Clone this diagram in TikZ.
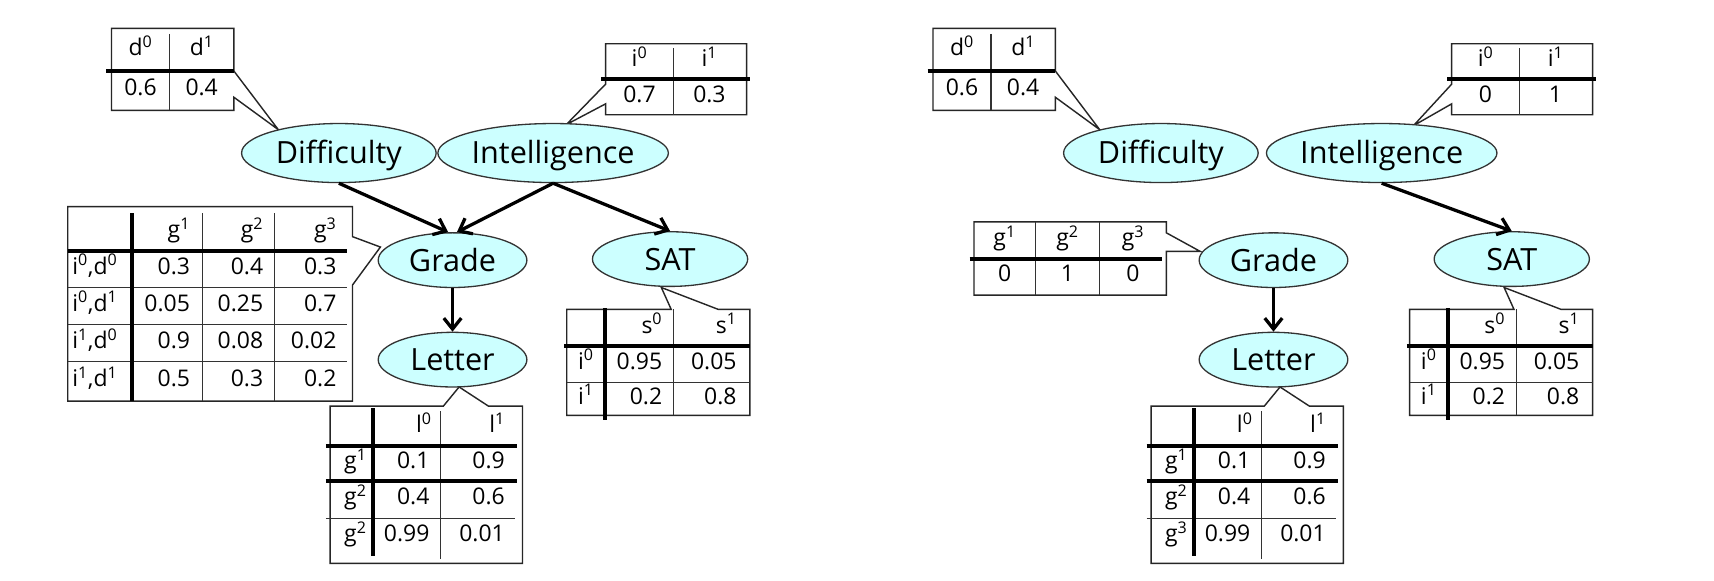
\documentclass[tikz,border=0pt]{standalone}
\usepackage{fontspec}
\setmainfont{Open Sans}
\usetikzlibrary{shapes.geometric,arrows.meta}
\definecolor{nodefill}{RGB}{204,255,255}
\newcommand{\su}[1]{\textsuperscript{#1}}
\begin{document}
\begin{tikzpicture}[x=1pt,y=-1pt,
  var/.style={ellipse,draw=black!80,line width=1.2pt,fill=nodefill,inner sep=0pt,
    minimum height=50pt,text height=20pt,text depth=0pt,font=\fontsize{28}{30}\selectfont},
  tall/.style={minimum height=54pt},
  tbl/.style={draw=black!85,line width=1.3pt,fill=white,line join=miter},
  thinln/.style={line width=1.1pt,draw=black!80},
  thickln/.style={line width=4pt,draw=black},
  cell/.style={inner sep=0pt,font=\fontsize{21}{24}\selectfont,anchor=mid},
  rcell/.style={cell,anchor=mid east},
  lcell/.style={cell,anchor=mid west},
  arr/.style={line width=3pt,draw=black,-{Straight Barb[length=10pt,width=16pt,line width=3pt]}}]
\fill[white] (0,0) rectangle (1568,531);
\useasboundingbox (0,0) rectangle (1568,531);

%%%%%%%%%%%%%%%% LEFT NETWORK %%%%%%%%%%%%%%%%
% Difficulty CPT
\draw[tbl] (102,26) -- (214,26) -- (214,65) -- (254.6,118.6) -- (214,89) -- (214,101) -- (102,101) -- cycle;
\draw[thinln] (155,31) -- (155,101);
\draw[thickln] (97,65) -- (214,65);
\node[cell] (a1) at (128.5,48) {d\su{0}};
\node[cell] (a2) at (184.5,48) {d\su{1}};
\node[cell] (a3) at (128.5,85) {0.6};
\node[cell] (a4) at (184.5,85) {0.4};

% Intelligence CPT
\draw[tbl] (554,40) -- (683,40) -- (683,105) -- (554,105) -- (554,95) -- (518,114) -- (554,77) -- cycle;
\draw[thinln] (616,44) -- (616,105);
\draw[thickln] (550,72) -- (686,72);
\node[cell] (b1) at (585,58) {i\su{0}};
\node[cell] (b2) at (649,58) {i\su{1}};
\node[cell] (b3) at (585,91) {0.7};
\node[cell] (b4) at (649,91) {0.3};

% Grade CPT
\draw[tbl] (62,189) -- (322.5,189) -- (322.5,216.5) -- (348,226) -- (322.5,260.7) -- (322.5,367) -- (62,367) -- cycle;
\foreach \yy in {263,297,331} \draw[thinln] (62,\yy) -- (317,\yy);
\foreach \xx in {185,251} \draw[thinln] (\xx,195) -- (\xx,367);
\draw[thickln] (62,229.6) -- (317,229.6);
\draw[thickln] (121,195) -- (121,367);
\node[rcell] (c1) at (174,215) {g\su{1}};
\node[rcell] (c2) at (241,215) {g\su{2}};
\node[rcell] (c3) at (308,215) {g\su{3}};
\node[lcell] (c4) at (66,248) {i\su{0},d\su{0}};
\node[rcell] (c5) at (174,248) {0.3};
\node[rcell] (c6) at (241,248) {0.4};
\node[rcell] (c7) at (308,248) {0.3};
\node[lcell] (c8) at (66,282) {i\su{0},d\su{1}};
\node[rcell] (c9) at (174,282) {0.05};
\node[rcell] (c10) at (241,282) {0.25};
\node[rcell] (c11) at (308,282) {0.7};
\node[lcell] (c12) at (66,316) {i\su{1},d\su{0}};
\node[rcell] (c13) at (174,316) {0.9};
\node[rcell] (c14) at (241,316) {0.08};
\node[rcell] (c15) at (308,316) {0.02};
\node[lcell] (c16) at (66,351) {i\su{1},d\su{1}};
\node[rcell] (c17) at (174,351) {0.5};
\node[rcell] (c18) at (241,351) {0.3};
\node[rcell] (c19) at (308,351) {0.2};

% SAT CPT
\draw[tbl] (518.5,283) -- (614,283) -- (605,263) -- (657,283) -- (686,283) -- (686,380) -- (518.5,380) -- cycle;
\draw[thinln] (616,283) -- (616,380);
\draw[thinln] (518.5,350) -- (686,350);
\draw[thickln] (516,316.6) -- (686,316.6);
\draw[thickln] (553.5,282) -- (553.5,384);
\node[rcell] (e1) at (606,302) {s\su{0}};
\node[rcell] (e2) at (674,302) {s\su{1}};
\node[cell] (e3) at (536,335) {i\su{0}};
\node[rcell] (e4) at (606,335) {0.95};
\node[rcell] (e5) at (674,335) {0.05};
\node[cell] (e6) at (536,367) {i\su{1}};
\node[rcell] (e7) at (606,367) {0.2};
\node[rcell] (e8) at (674,367) {0.8};

% Letter CPT
\draw[tbl] (302,371.5) -- (405.6,371.5) -- (420,354) -- (446.8,371.5) -- (478,371.5) -- (478,515.4) -- (302,515.4) -- cycle;
\draw[thinln] (403,376) -- (403,511);
\draw[thinln] (298,474) -- (471,474);
\draw[thickln] (298,408) -- (473,408);
\draw[thickln] (298,440) -- (473,440);
\draw[thickln] (341,373.6) -- (341,509);
\node[rcell] (f1) at (395,393) {l\su{0}};
\node[rcell] (f2) at (462,393) {l\su{1}};
\node[rcell] (f3) at (335.5,426) {g\su{1}};
\node[rcell] (f4) at (393,426) {0.1};
\node[rcell] (f5) at (462,426) {0.9};
\node[rcell] (f6) at (335.5,459) {g\su{2}};
\node[rcell] (f7) at (393,459) {0.4};
\node[rcell] (f8) at (462,459) {0.6};
\node[rcell] (f9) at (335.5,493) {g\su{2}};
\node[rcell] (f10) at (393,493) {0.99};
\node[rcell] (f11) at (462,493) {0.01};

% nodes
\node[var,tall,minimum width=178pt] (D1) at (310,140) {Difficulty};
\node[var,tall,minimum width=178pt] (I1) at (506,140) {Intelligence};
\node[var,minimum width=136pt] (G1) at (414,238) {Grade};
\node[var,minimum width=142pt] (S1) at (613,237) {SAT};
\node[var,minimum width=136pt] (L1) at (414,329) {Letter};

\draw[arr] (D1.south) -- ([xshift=-4pt]G1.north);
\draw[arr] (I1.south) -- ([xshift=4pt]G1.north);
\draw[arr] (I1.south) -- (S1.north);
\draw[arr] (G1.south) -- (L1.north);

%%%%%%%%%%%%%%%% RIGHT NETWORK %%%%%%%%%%%%%%%%
% Difficulty CPT
\draw[tbl] (853.5,26) -- (965.5,26) -- (965.5,65) -- (1006,118.6) -- (965.5,89) -- (965.5,101) -- (853.5,101) -- cycle;
\draw[thinln] (906.5,31) -- (906.5,101);
\draw[thickln] (848.5,65) -- (965.5,65);
\node[cell] (g1) at (880,48) {d\su{0}};
\node[cell] (g2) at (936,48) {d\su{1}};
\node[cell] (g3) at (880,85) {0.6};
\node[cell] (g4) at (936,85) {0.4};

% Intelligence CPT
\draw[tbl] (1328,40) -- (1457,40) -- (1457,105) -- (1328,105) -- (1328,95) -- (1293,115) -- (1328,77) -- cycle;
\draw[thinln] (1390,44) -- (1390,105);
\draw[thickln] (1324,72) -- (1460,72);
\node[cell] (h1) at (1359,58) {i\su{0}};
\node[cell] (h2) at (1423,58) {i\su{1}};
\node[cell] (h3) at (1359,91) {0};
\node[cell] (h4) at (1423,91) {1};

% Grade CPT
\draw[tbl] (891,203) -- (1067,203) -- (1067,213) -- (1098,230) -- (1067,230) -- (1067,270) -- (891,270) -- cycle;
\foreach \xx in {947,1006} \draw[thinln] (\xx,203) -- (\xx,270);
\draw[thickln] (887,237) -- (1063,237);
\node[cell] (k1) at (919,222) {g\su{1}};
\node[cell] (k2) at (976.5,222) {g\su{2}};
\node[cell] (k3) at (1036.5,222) {g\su{3}};
\node[cell] (k4) at (919,255) {0};
\node[cell] (k5) at (976.5,255) {1};
\node[cell] (k6) at (1036.5,255) {0};

% SAT CPT
\draw[tbl] (1289.5,283) -- (1385,283) -- (1376,263) -- (1428,283) -- (1457,283) -- (1457,380) -- (1289.5,380) -- cycle;
\draw[thinln] (1387,283) -- (1387,380);
\draw[thinln] (1289.5,350) -- (1457,350);
\draw[thickln] (1287,316.6) -- (1457,316.6);
\draw[thickln] (1324.5,282) -- (1324.5,384);
\node[rcell] (m1) at (1377,302) {s\su{0}};
\node[rcell] (m2) at (1445,302) {s\su{1}};
\node[cell] (m3) at (1307,335) {i\su{0}};
\node[rcell] (m4) at (1377,335) {0.95};
\node[rcell] (m5) at (1445,335) {0.05};
\node[cell] (m6) at (1307,367) {i\su{1}};
\node[rcell] (m7) at (1377,367) {0.2};
\node[rcell] (m8) at (1445,367) {0.8};

% Letter CPT
\draw[tbl] (1053,371.5) -- (1156.6,371.5) -- (1171,354) -- (1197.8,371.5) -- (1229,371.5) -- (1229,515.4) -- (1053,515.4) -- cycle;
\draw[thinln] (1154,376) -- (1154,511);
\draw[thinln] (1049,474) -- (1222,474);
\draw[thickln] (1049,408) -- (1224,408);
\draw[thickln] (1049,440) -- (1224,440);
\draw[thickln] (1092,373.6) -- (1092,509);
\node[rcell] (n1) at (1146,393) {l\su{0}};
\node[rcell] (n2) at (1213,393) {l\su{1}};
\node[rcell] (n3) at (1086.5,426) {g\su{1}};
\node[rcell] (n4) at (1144,426) {0.1};
\node[rcell] (n5) at (1213,426) {0.9};
\node[rcell] (n6) at (1086.5,459) {g\su{2}};
\node[rcell] (n7) at (1144,459) {0.4};
\node[rcell] (n8) at (1213,459) {0.6};
\node[rcell] (n9) at (1086.5,493) {g\su{3}};
\node[rcell] (n10) at (1144,493) {0.99};
\node[rcell] (n11) at (1213,493) {0.01};

% nodes
\node[var,tall,minimum width=178pt] (D2) at (1062,140) {Difficulty};
\node[var,tall,minimum width=178pt] (I2) at (1264,140) {Intelligence};
\node[var,minimum width=136pt] (G2) at (1165,238) {Grade};
\node[var,minimum width=142pt] (S2) at (1383,237) {SAT};
\node[var,minimum width=136pt] (L2) at (1165,329) {Letter};

\draw[arr] (I2.south) -- (S2.north);
\draw[arr] (G2.south) -- (L2.north);
\end{tikzpicture}
\end{document}
